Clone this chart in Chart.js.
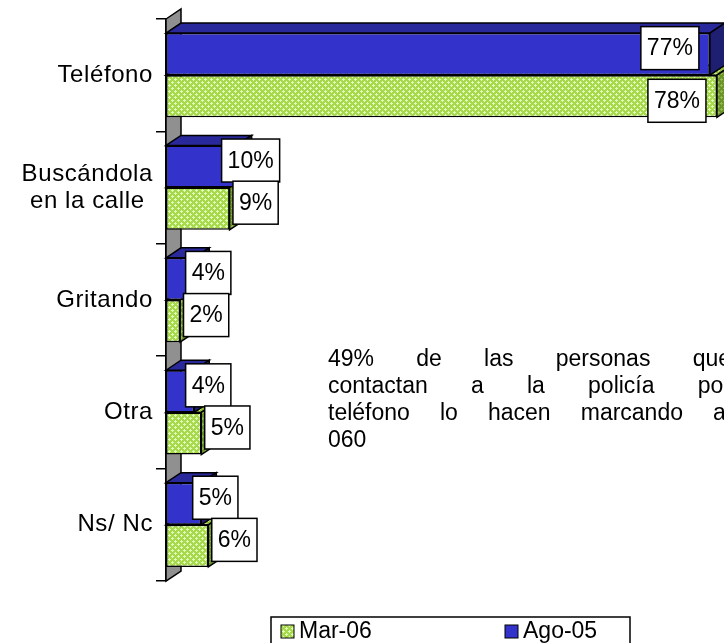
<!DOCTYPE html>
<html>
<head>
<meta charset="utf-8">
<script src="https://cdn.jsdelivr.net/npm/chart.js@4.4.0/dist/chart.umd.min.js"></script>
<style>
    html, body { margin: 0; padding: 0; background: #fff; }
    canvas { display: block; }
</style>
</head>
<body>
<canvas id="chartCanvas" width="724" height="643"></canvas>
<script>
// datos
var categories = [['Teléfono'], ['Buscándola', 'en la calle'], ['Gritando'], ['Otra'], ['Ns/ Nc']];
var ago05 = [77, 10, 4, 4, 5];
var mar06 = [78, 9, 2, 5, 6];
var seriesNames = ['Ago-05', 'Mar-06'];
var noteLines = ['49% de las personas que', 'contactan a la policía por', 'teléfono lo hacen marcando al', '060'];

var FONT = '23px "Liberation Sans", Arial, sans-serif';
var CAT_FONT = '24px "Liberation Sans", Arial, sans-serif';
var dx = 15, dy = 10; // profundidad 3D

// trama verde
function makePattern(base, light) {
    var c = document.createElement('canvas');
    c.width = 6; c.height = 6;
    var g = c.getContext('2d');
    g.fillStyle = base; g.fillRect(0, 0, 6, 6);
    g.fillStyle = light;
    g.fillRect(1, 0, 1, 3); g.fillRect(0, 1, 3, 1);
    g.fillRect(4, 3, 1, 3); g.fillRect(3, 4, 3, 1);
    return g.createPattern(c, 'repeat');
}

var greenFront = makePattern('#A8D84C', '#DDFFB8');
var greenTop = makePattern('#8DBE38', '#C4E890');
var greenSide = makePattern('#6A9426', '#94B858');
var blueFront = '#3333CC', blueTop = '#29299C', blueSide = '#1F1F72';

function face(ctx, pts, fill) {
    ctx.beginPath();
    pts.forEach(function (p, i) { i ? ctx.lineTo(p[0], p[1]) : ctx.moveTo(p[0], p[1]); });
    ctx.closePath();
    ctx.fillStyle = fill;
    ctx.fill();
    ctx.stroke();
}

function drawFaces(ctx, bar, top, side) {
    var p = bar.getProps(['x', 'y', 'base', 'height'], true);
    var x0 = p.base, x1 = p.x, y0 = p.y - p.height / 2, y1 = p.y + p.height / 2;
    face(ctx, [[x0, y0], [x0 + dx, y0 - dy], [x1 + dx, y0 - dy], [x1, y0]], top);
    face(ctx, [[x1, y0], [x1 + dx, y0 - dy], [x1 + dx, y1 - dy], [x1, y1]], side);
}

var bars3d = {
    id: 'bars3d',
    beforeDatasetsDraw: function (chart) {
        var ctx = chart.ctx, a = chart.chartArea;
        ctx.save();
        ctx.strokeStyle = '#000';
        ctx.lineWidth = 1.5;
        // pared lateral
        face(ctx, [[a.left, a.top], [a.left + dx, a.top - dy], [a.left + dx, a.bottom - dy], [a.left, a.bottom]], '#909090');
        // caras de Mar-06 (detrás)
        chart.getDatasetMeta(1).data.forEach(function (bar) {
            drawFaces(ctx, bar, greenTop, greenSide);
        });
        ctx.restore();
    },
    afterDatasetsDraw: function (chart) {
        var ctx = chart.ctx, a = chart.chartArea;
        ctx.save();
        ctx.strokeStyle = '#000';
        ctx.lineWidth = 1.5;
        chart.getDatasetMeta(0).data.forEach(function (bar) {
            drawFaces(ctx, bar, blueTop, blueSide);
        });

        // etiquetas de valores
        ctx.font = FONT;
        ctx.textAlign = 'center';
        ctx.textBaseline = 'middle';
        for (var i = 0; i < categories.length; i++) {
            [0, 1].forEach(function (di) {
                var bar = chart.getDatasetMeta(di).data[i];
                var text = chart.data.datasets[di].data[i] + '%';
                var w = ctx.measureText(text).width + 12, h = 43;
                var cx = bar.x + (di === 0 ? 14 : 26);
                var cy = bar.y - 6;
                if (cx + w / 2 > a.right - 15) {
                    cx = bar.x - 40;
                    if (di === 1) cy = bar.y + 4.5;
                }
                ctx.fillStyle = '#fff';
                ctx.fillRect(cx - w / 2, cy - h / 2, w, h);
                ctx.strokeRect(cx - w / 2, cy - h / 2, w, h);
                ctx.fillStyle = '#000';
                ctx.fillText(text, cx, cy + 1);
            });
        }

        // categorias
        var ys = chart.scales.y;
        ctx.font = CAT_FONT;
        ctx.letterSpacing = '0.6px';
        ctx.textAlign = 'center';
        chart.data.labels.forEach(function (lines, i) {
            var cy = ys.getPixelForTick(i);
            var maxW = 0;
            lines.forEach(function (ln) { maxW = Math.max(maxW, ctx.measureText(ln).width); });
            var cx = ys.right - 13 - maxW / 2;
            lines.forEach(function (ln, j) {
                ctx.fillText(ln, cx, cy + (j - (lines.length - 1) / 2) * 27);
            });
        });
        ctx.letterSpacing = '0px';

        // nota justificada
        var left = 328, right = 731, y0 = 360, lh = 27;
        ctx.font = FONT;
        ctx.textAlign = 'left';
        noteLines.forEach(function (line, j) {
            var words = line.split(' ');
            var y = y0 + j * lh;
            if (j === noteLines.length - 1 || words.length === 1) {
                ctx.fillText(line, left, y);
                return;
            }
            var total = 0;
            words.forEach(function (wd) { total += ctx.measureText(wd).width; });
            var gap = (right - left - total) / (words.length - 1);
            var x = left;
            words.forEach(function (wd) {
                ctx.fillText(wd, x, y);
                x += ctx.measureText(wd).width + gap;
            });
        });

        // leyenda
        ctx.lineWidth = 1.5;
        ctx.strokeRect(271, 617, 359, 40);
        var items = [{ ds: 1, x: 281 }, { ds: 0, x: 505 }];
        items.forEach(function (it) {
            var ds = chart.data.datasets[it.ds];
            ctx.fillStyle = ds.backgroundColor;
            ctx.fillRect(it.x, 625, 13, 13);
            ctx.lineWidth = 1;
            ctx.strokeRect(it.x, 625, 13, 13);
            ctx.fillStyle = '#000';
            ctx.fillText(ds.label, it.x + 18, 632);
        });
        ctx.restore();
    }
};

var ctx = document.getElementById('chartCanvas').getContext('2d');
window.myBar = new Chart(ctx, {
    type: 'bar',
    data: {
        labels: categories,
        datasets: [
            {
                label: seriesNames[0],
                data: ago05,
                backgroundColor: blueFront,
                borderColor: '#000',
                borderWidth: 1.5,
                borderSkipped: false
            },
            {
                label: seriesNames[1],
                data: mar06,
                backgroundColor: greenFront,
                borderColor: '#000',
                borderWidth: 1.5,
                borderSkipped: false
            }
        ]
    },
    options: {
        indexAxis: 'y',
        responsive: false,
        animation: false,
        layout: { padding: { top: 19, bottom: 62, left: 0, right: 0 } },
        datasets: { bar: { categoryPercentage: 0.75, barPercentage: 1 } },
        plugins: {
            legend: { display: false },
            tooltip: { enabled: false }
        },
        scales: {
            x: { display: false, min: 0, max: 79 },
            y: {
                afterFit: function (scale) { scale.width = 166; },
                grid: { drawOnChartArea: false, drawTicks: true, tickLength: 10, color: '#000', lineWidth: 1.5, offset: true },
                border: { display: true, color: '#000', width: 1.5 },
                ticks: { display: false }
            }
        }
    },
    plugins: [bars3d]
});
</script>
</body>
</html>
